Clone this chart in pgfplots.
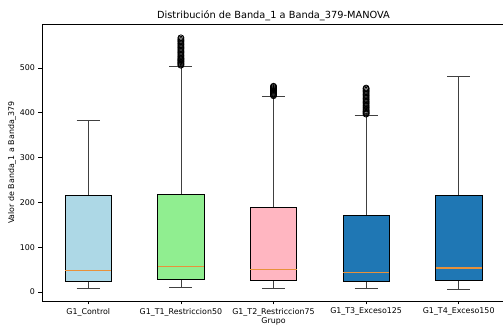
\documentclass[border=0pt]{standalone}
\usepackage{fontspec}
\setmainfont{DejaVu Sans}
\usepackage{pgfplots}
\pgfplotsset{compat=1.18}
\usepgfplotslibrary{statistics}
\definecolor{mplblue}{HTML}{1F77B4}
\definecolor{mplorange}{HTML}{E8913A}
\definecolor{lblue}{RGB}{173,216,230}
\definecolor{lgreen}{RGB}{144,238,144}
\definecolor{lpink}{RGB}{255,182,193}
\begin{document}
\begin{tikzpicture}
\path[use as bounding box] (-42pt,-25pt) rectangle (461pt,301pt);
\begin{axis}[
  at={(0,0)}, anchor=south west,
  scale only axis, width=463pt, height=277pt,
  xmin=0.5, xmax=5.5, ymin=-20, ymax=598,
  xtick={1,2,3,4,5},
  xticklabels={G1\_Control, G1\_T1\_Restriccion50, G1\_T2\_Restriccion75, G1\_T3\_Exceso125, G1\_T4\_Exceso150},
  ytick={0,100,200,300,400,500},
  tick align=outside, tick pos=left,
  major tick length=3.5pt,
  every tick/.style={black, line width=0.6pt},
  axis line style={line width=0.6pt, black},
  /pgf/number format/assume math mode=true,
  tick label style={font=\fontsize{7.9}{9}\selectfont},
  label style={font=\fontsize{7.9}{9}\selectfont},
  title style={font=\fontsize{9.8}{11}\selectfont, yshift=-6pt},
  title={Distribución de Banda\_1 a Banda\_379-MANOVA},
  xlabel={Grupo},
  ylabel={Valor de Banda\_1 a Banda\_379},
  xlabel style={yshift=5pt},
  ylabel style={yshift=-3pt},
  boxplot/draw direction=y,
  boxplot/box extend=0.5,
  boxplot/every median/.style={draw=mplorange, fill=none, line width=1.5pt},
  boxplot/every whisker/.style={draw=black!75, fill=none, line width=0.7pt},
  boxplot/every box/.style={draw=black, line width=0.7pt},
]
\addplot[boxplot prepared={lower whisker=8, lower quartile=24.5, median=47.5, upper quartile=216, upper whisker=383, draw position=1, whisker extend=0.25}, fill=lblue, draw=black] coordinates {};
\addplot[boxplot prepared={lower whisker=10, lower quartile=28, median=57, upper quartile=217, upper whisker=503, draw position=2, whisker extend=0.25}, fill=lgreen, draw=black, mark=o, mark size=3pt, mark options={draw=black, line width=0.8pt, fill=none}] table[row sep=\\, y index=0] {d\\ 506\\ 508\\ 510\\ 512\\ 514\\ 516\\ 518\\ 520\\ 522\\ 525\\ 528\\ 531\\ 534\\ 537\\ 540\\ 543\\ 546\\ 549\\ 552\\ 555\\ 558\\ 561\\ 564\\ 567\\};
\addplot[boxplot prepared={lower whisker=8, lower quartile=26, median=50, upper quartile=189, upper whisker=436, draw position=3, whisker extend=0.25}, fill=lpink, draw=black, mark=o, mark size=3pt, mark options={draw=black, line width=0.8pt, fill=none}] table[row sep=\\, y index=0] {d\\ 438\\ 440\\ 442\\ 444\\ 446\\ 448\\ 450\\ 452\\ 454\\ 456\\ 458\\ 459\\};
\addplot[boxplot prepared={lower whisker=8, lower quartile=23, median=44, upper quartile=170, upper whisker=394, draw position=4, whisker extend=0.25}, fill=mplblue, draw=black, mark=o, mark size=3pt, mark options={draw=black, line width=0.8pt, fill=none}] table[row sep=\\, y index=0] {d\\ 397\\ 399\\ 401\\ 403\\ 405\\ 408\\ 411\\ 414\\ 417\\ 420\\ 423\\ 426\\ 429\\ 432\\ 435\\ 438\\ 441\\ 444\\ 447\\ 450\\ 453\\ 455\\};
\addplot[boxplot prepared={lower whisker=7, lower quartile=27, median=54, upper quartile=216, upper whisker=481, draw position=5, whisker extend=0.25}, fill=mplblue, draw=black] coordinates {};
\end{axis}
\end{tikzpicture}
\end{document}
